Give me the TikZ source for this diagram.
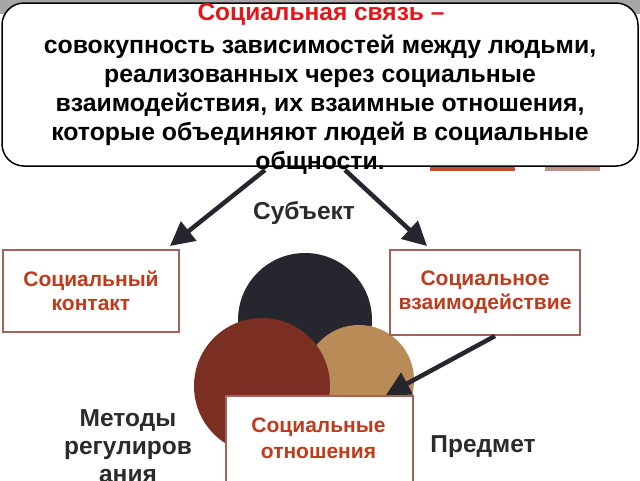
\documentclass[tikz,border=0pt]{standalone}
\usepackage{fontspec}
\setmainfont{Liberation Sans}
\usetikzlibrary{arrows.meta}
\usetikzlibrary{positioning}

\definecolor{titlered}{HTML}{E3161B}
\definecolor{boxtext}{HTML}{C03A1C}
\definecolor{boxline}{HTML}{A0645A}
\definecolor{darkball}{HTML}{26262F}
\definecolor{brownball}{HTML}{7B2F23}
\definecolor{tanball}{HTML}{B88B57}
\definecolor{labelgray}{HTML}{2B2B2B}

\tikzset{
  termbox/.style={draw=boxline, line width=1.5pt, fill=white, text=boxtext,
    font=\bfseries\fontsize{21}{23.5}\selectfont, align=center, inner sep=0pt},
  sidelabel/.style={text=labelgray, font=\bfseries\fontsize{24.5}{28}\selectfont, align=center},
  bigarrow/.style={line width=4.5pt, draw=darkball, -{Triangle[length=24pt,width=24pt]}}
}

\begin{document}
\begin{tikzpicture}[x=1pt,y=-1pt]
        \useasboundingbox (0,0) rectangle (640,480);
        \fill[white] (0,0) rectangle (640,480);
        % backdrop behind the definition
        \fill[gray!70] (0,0) rectangle (640,14);
        \fill[boxtext!90] (430,160) rectangle (515,171);
        \fill[boxline!70] (545,160) rectangle (600,171);
        \draw[line width=1.5pt, fill=white, rounded corners=22pt] (2,3) rectangle (638,166);
        \node [text=titlered, font=\bfseries\fontsize{24.5}{26}\selectfont] (title) at (321,14) {Социальная связь --};
        \node [font=\bfseries\fontsize{24.8}{29}\selectfont, align=center, anchor=north] (def) at (320,32)
            {совокупность зависимостей между людьми,\\
             реализованных через социальные\\
             взаимодействия, их взаимные отношения,\\
             которые объединяют людей в социальные\\
             общности.};
        \coordinate (l0) at (265,170);
        \coordinate (l1) at (170,246);
        \coordinate (r0) at (345,170);
        \coordinate (r1) at (427,246);
        \coordinate (i0) at (495,336);
        \coordinate (i1) at (386,395);

        % circles
        \fill[darkball] (305,320) circle (67);
        \fill[tanball] (359,380) circle (55);
        \fill[brownball] (262,386) circle (68);

        \node [termbox, minimum width=176pt, minimum height=82pt] (contact) at (91,291) {Социальный\\контакт};
        \node [termbox, minimum width=190pt, minimum height=85pt] (inter) at (485,292.5) {Социальное\\взаимодействие};
        \node [termbox, minimum width=187pt, minimum height=100pt, anchor=north west] (rel) at (225,395) {};
        \node [text=boxtext, font=\bfseries\fontsize{21}{26}\selectfont, align=center] (reltext) at (318.5,438) {Социальные\\отношения};

        \node [sidelabel] (subj) at (304,213) {Субъект};
        \node [sidelabel] (obj) at (483,447) {Предмет};
        \node [sidelabel, anchor=north] (meth) at (128,406) {Методы\\регулиров\\ания};

        \draw [bigarrow] (l0) -- (l1);
        \draw [bigarrow] (r0) -- (r1);
        \draw [bigarrow] (i0) -- (i1);
\end{tikzpicture}
\end{document}
